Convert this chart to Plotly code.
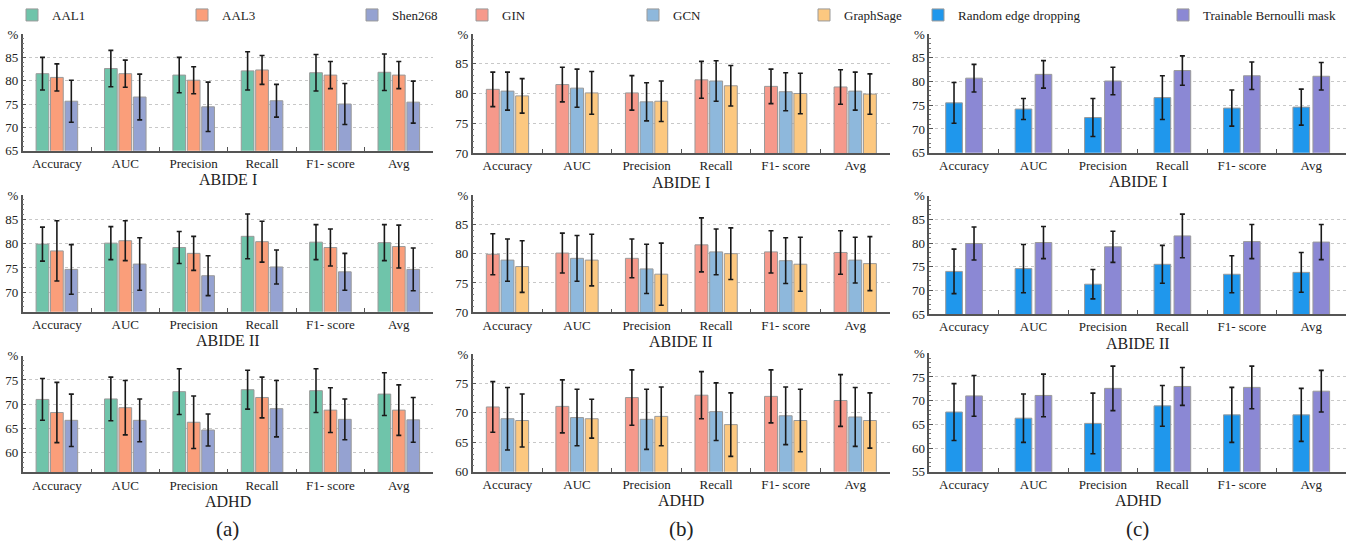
import plotly.graph_objects as go

# ---------------- data ----------------
METRICS = ["Accuracy", "AUC", "Precision", "Recall", "F1- score", "Avg"]
DATASETS = ["ABIDE I", "ABIDE II", "ADHD"]
PANEL_LETTERS = ["(a)", "(b)", "(c)"]

# (a) atlases
AAL1_ABIDE1 = [81.5, 82.6, 81.2, 82.1, 81.7, 81.8]
AAL1_ABIDE1_ERR = [3.5, 3.9, 3.8, 4.1, 3.9, 3.9]
AAL3_ABIDE1 = [80.7, 81.5, 80.1, 82.3, 81.2, 81.2]
AAL3_ABIDE1_ERR = [2.9, 2.9, 2.9, 3.1, 2.9, 2.9]
SHEN_ABIDE1 = [75.6, 76.5, 74.4, 75.7, 75.0, 75.4]
SHEN_ABIDE1_ERR = [4.5, 4.9, 5.3, 3.5, 4.4, 4.5]

AAL1_ABIDE2 = [79.9, 80.1, 79.2, 81.5, 80.3, 80.2]
AAL1_ABIDE2_ERR = [3.5, 3.4, 3.3, 4.6, 3.6, 3.7]
AAL3_ABIDE2 = [78.5, 80.6, 78.0, 80.4, 79.2, 79.4]
AAL3_ABIDE2_ERR = [6.2, 4.1, 3.5, 4.2, 3.8, 4.4]
SHEN_ABIDE2 = [74.7, 75.8, 73.4, 75.2, 74.2, 74.7]
SHEN_ABIDE2_ERR = [5.1, 5.4, 4.1, 3.5, 3.8, 4.4]

AAL1_ADHD = [71.0, 71.1, 72.6, 73.0, 72.8, 72.1]
AAL1_ADHD_ERR = [4.3, 4.5, 4.7, 4.0, 4.5, 4.4]
AAL3_ADHD = [68.3, 69.3, 66.3, 71.4, 68.8, 68.8]
AAL3_ADHD_ERR = [6.2, 5.6, 5.4, 4.2, 4.6, 5.2]
SHEN_ADHD = [66.7, 66.7, 64.7, 69.1, 66.9, 66.8]
SHEN_ADHD_ERR = [5.4, 4.4, 3.3, 5.8, 4.2, 4.6]

# (b) GNN backbones
GIN_ABIDE1 = [80.7, 81.5, 80.1, 82.3, 81.2, 81.1]
GIN_ABIDE1_ERR = [2.9, 2.9, 2.9, 3.1, 2.9, 2.9]
GCN_ABIDE1 = [80.4, 80.9, 78.6, 82.1, 80.3, 80.4]
GCN_ABIDE1_ERR = [3.2, 3.2, 3.2, 3.4, 3.2, 3.2]
SAGE_ABIDE1 = [79.6, 80.1, 78.7, 81.3, 80.0, 79.9]
SAGE_ABIDE1_ERR = [2.9, 3.6, 3.4, 3.4, 3.4, 3.4]

GIN_ABIDE2 = [79.9, 80.1, 79.2, 81.5, 80.3, 80.2]
GIN_ABIDE2_ERR = [3.5, 3.4, 3.3, 4.6, 3.6, 3.7]
GCN_ABIDE2 = [78.9, 79.2, 77.4, 80.3, 78.8, 78.9]
GCN_ABIDE2_ERR = [3.6, 3.9, 4.2, 3.9, 3.9, 3.9]
SAGE_ABIDE2 = [77.8, 78.9, 76.5, 80.0, 78.2, 78.3]
SAGE_ABIDE2_ERR = [4.4, 4.4, 5.3, 4.4, 4.6, 4.6]

GIN_ADHD = [71.0, 71.1, 72.6, 73.0, 72.8, 72.1]
GIN_ADHD_ERR = [4.3, 4.5, 4.7, 4.0, 4.5, 4.4]
GCN_ADHD = [69.0, 69.2, 68.9, 70.2, 69.5, 69.3]
GCN_ADHD_ERR = [5.3, 4.8, 5.1, 4.9, 4.9, 5.0]
SAGE_ADHD = [68.7, 69.0, 69.4, 68.0, 68.7, 68.7]
SAGE_ADHD_ERR = [4.5, 3.3, 5.0, 5.4, 5.3, 4.7]

# (c) edge masking strategies
RAND_ABIDE1 = [75.5, 74.2, 72.4, 76.6, 74.4, 74.6]
RAND_ABIDE1_ERR = [4.3, 2.2, 4.0, 4.6, 3.8, 3.8]
BERN_ABIDE1 = [80.7, 81.5, 80.1, 82.3, 81.2, 81.1]
BERN_ABIDE1_ERR = [2.9, 2.9, 2.9, 3.1, 2.9, 2.9]

RAND_ABIDE2 = [74.0, 74.6, 71.3, 75.5, 73.4, 73.8]
RAND_ABIDE2_ERR = [4.7, 5.1, 3.1, 4.0, 3.9, 4.2]
BERN_ABIDE2 = [79.9, 80.1, 79.2, 81.5, 80.3, 80.2]
BERN_ABIDE2_ERR = [3.5, 3.4, 3.3, 4.6, 3.6, 3.7]

RAND_ADHD = [67.6, 66.3, 65.2, 68.9, 67.0, 67.0]
RAND_ADHD_ERR = [6.0, 5.1, 6.4, 4.3, 5.8, 5.6]
BERN_ADHD = [71.0, 71.1, 72.6, 73.0, 72.8, 72.0]
BERN_ADHD_ERR = [4.3, 4.5, 4.7, 4.0, 4.5, 4.4]

# y ranges per panel [row][col]
Y_RANGES = [
    [[65, 90], [70, 90], [65, 90]],
    [[66, 90], [70, 90], [65, 90]],
    [[56, 80], [60, 80], [55, 80]],
]

# ---------------- styling ----------------
W, H = 1350, 545
FONT = "Liberation Serif, Times New Roman, serif"
COLORS = {
    "AAL1": "#6FC4AA", "AAL3": "#FA9E7A", "Shen268": "#95A2D1",
    "GIN": "#F6998B", "GCN": "#8EB8DC", "GraphSage": "#FCC880",
    "Random edge dropping": "#1F97EC", "Trainable Bernoulli mask": "#8B88D4",
}

PANELS = {
    0: [
        [("AAL1", AAL1_ABIDE1, AAL1_ABIDE1_ERR), ("AAL3", AAL3_ABIDE1, AAL3_ABIDE1_ERR), ("Shen268", SHEN_ABIDE1, SHEN_ABIDE1_ERR)],
        [("AAL1", AAL1_ABIDE2, AAL1_ABIDE2_ERR), ("AAL3", AAL3_ABIDE2, AAL3_ABIDE2_ERR), ("Shen268", SHEN_ABIDE2, SHEN_ABIDE2_ERR)],
        [("AAL1", AAL1_ADHD, AAL1_ADHD_ERR), ("AAL3", AAL3_ADHD, AAL3_ADHD_ERR), ("Shen268", SHEN_ADHD, SHEN_ADHD_ERR)],
    ],
    1: [
        [("GIN", GIN_ABIDE1, GIN_ABIDE1_ERR), ("GCN", GCN_ABIDE1, GCN_ABIDE1_ERR), ("GraphSage", SAGE_ABIDE1, SAGE_ABIDE1_ERR)],
        [("GIN", GIN_ABIDE2, GIN_ABIDE2_ERR), ("GCN", GCN_ABIDE2, GCN_ABIDE2_ERR), ("GraphSage", SAGE_ABIDE2, SAGE_ABIDE2_ERR)],
        [("GIN", GIN_ADHD, GIN_ADHD_ERR), ("GCN", GCN_ADHD, GCN_ADHD_ERR), ("GraphSage", SAGE_ADHD, SAGE_ADHD_ERR)],
    ],
    2: [
        [("Random edge dropping", RAND_ABIDE1, RAND_ABIDE1_ERR), ("Trainable Bernoulli mask", BERN_ABIDE1, BERN_ABIDE1_ERR)],
        [("Random edge dropping", RAND_ABIDE2, RAND_ABIDE2_ERR), ("Trainable Bernoulli mask", BERN_ABIDE2, BERN_ABIDE2_ERR)],
        [("Random edge dropping", RAND_ADHD, RAND_ADHD_ERR), ("Trainable Bernoulli mask", BERN_ADHD, BERN_ADHD_ERR)],
    ],
}

# pixel geometry of each plotting area
X_PX = [(22.7, 433), (472.7, 890), (929.3, 1346)]
Y_PX = [
    [(34, 150.7), (34, 153), (34, 152.7)],
    [(195, 311.7), (195, 312.3), (195.7, 314)],
    [(355.7, 472.3), (354, 471.7), (353.3, 471.7)],
]
BAR_W = {3: 0.186, 2: 0.24}
BAR_OFF = {3: [-0.304, -0.093, 0.118], 2: [-0.264, 0.024]}
LEGEND_IDS = ["legend", "legend2", "legend3"]

fig = go.Figure()
layout = {}
annotations = []

for row in range(3):
    for col in range(3):
        k = row * 3 + col + 1
        xa = "x" if k == 1 else f"x{k}"
        ya = "y" if k == 1 else f"y{k}"
        series = PANELS[col][row]
        n = len(series)
        for i, (name, vals, errs) in enumerate(series):
            fig.add_trace(go.Bar(
                x=METRICS, y=vals, name=name,
                xaxis=xa, yaxis=ya,
                width=BAR_W[n], offset=BAR_OFF[n][i],
                marker=dict(color=COLORS[name], line=dict(color="#9a9a9a", width=1)),
                error_y=dict(type="data", array=errs, color="#1a1a1a", thickness=1.6, width=2.5),
                legend=LEGEND_IDS[col], showlegend=(row == 0),
            ))
        x0, x1 = X_PX[col]
        yt, yb = Y_PX[row][col]
        lo, hi = Y_RANGES[row][col]
        tv = list(range(((lo + 4) // 5) * 5, hi + 1, 5))
        tt = [str(v) if v != hi else "%" for v in tv]
        layout[("xaxis" if k == 1 else f"xaxis{k}")] = dict(
            domain=[x0 / W, x1 / W], anchor=ya,
            showline=True, linecolor="#555", linewidth=1.5,
            ticks="inside", tickson="boundaries", ticklen=4, tickcolor="#555",
            tickfont=dict(family=FONT, size=13, color="#222"),
            showgrid=False, zeroline=False, fixedrange=True,
        )
        layout[("yaxis" if k == 1 else f"yaxis{k}")] = dict(
            domain=[1 - yb / H, 1 - yt / H], anchor=xa, range=[lo, hi],
            tickvals=tv, ticktext=tt,
            showline=True, linecolor="#555", linewidth=1.5,
            ticks="inside", ticklen=4, tickcolor="#555",
            minor=dict(ticks="inside", ticklen=2, dtick=1, tickcolor="#777", showgrid=False),
            tickfont=dict(family=FONT, size=13, color="#222"),
            showgrid=True, gridcolor="#c8c8c8", griddash="dot", gridwidth=1,
            zeroline=False, fixedrange=True,
        )
        annotations.append(dict(
            text=DATASETS[row], xref="paper", yref="paper",
            x=(x0 + x1) / 2 / W, y=1 - (yb + 29) / H,
            xanchor="center", yanchor="middle", showarrow=False,
            font=dict(family=FONT, size=16, color="#222"),
        ))

for col in range(3):
    x0, x1 = X_PX[col]
    annotations.append(dict(
        text=PANEL_LETTERS[col], xref="paper", yref="paper",
        x=(x0 + x1) / 2 / W, y=1 - 529 / H,
        xanchor="center", yanchor="middle", showarrow=False,
        font=dict(family=FONT, size=21, color="#222"),
    ))

LEGEND_X = [12, 462, 918]
LEGEND_EW = [125, 126, 200]
for col in range(3):
    layout[LEGEND_IDS[col]] = dict(
        x=LEGEND_X[col] / W, y=1 - 15 / H, xanchor="left", yanchor="middle",
        orientation="h", entrywidth=LEGEND_EW[col], entrywidthmode="pixels",
        font=dict(family=FONT, size=13, color="#222"),
        bgcolor="rgba(0,0,0,0)", borderwidth=0, traceorder="normal",
    )

fig.update_layout(
    **layout,
    annotations=annotations,
    barmode="overlay",
    width=W, height=H,
    margin=dict(l=0, r=0, t=0, b=0, autoexpand=False),
    paper_bgcolor="white", plot_bgcolor="white",
    font=dict(family=FONT, color="#222"),
)

fig.write_html("out.html")
